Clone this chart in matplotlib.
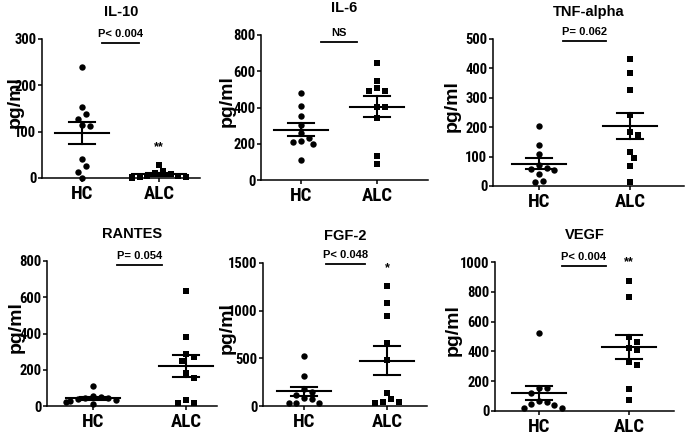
# cytokine scatter panels, HC vs ALC

import numpy as np
import matplotlib
matplotlib.use('Agg')
import matplotlib.pyplot as plt

# values (pg/ml)
groups = ['HC', 'ALC']
titles = ['IL-10', 'IL-6', 'TNF-alpha', 'RANTES', 'FGF-2', 'VEGF']

il10_hc = [240, 153, 139, 128, 114, 112, 40, 26, 14, 0]
il10_alc = [28, 15, 10, 8, 5, 4, 3, 2, 2, 1]
il6_hc = [482, 410, 353, 303, 259, 232, 215, 210, 199, 110]
il6_alc = [647, 546, 506, 493, 493, 404, 404, 340, 132, 88]
tnf_hc = [205, 138, 108, 70, 58, 55, 60, 40, 18, 12]
tnf_alc = [432, 384, 327, 242, 182, 174, 117, 94, 68, 15]
rantes_hc = [110, 55, 48, 45, 42, 38, 35, 25, 20, 12]
rantes_alc = [635, 382, 286, 268, 250, 180, 152, 33, 15, 18]
fgf_hc = [526, 315, 175, 151, 116, 81, 74, 28, 28, 28]
fgf_alc = [1255, 1080, 939, 666, 484, 140, 70, 46, 46, 35]
vegf_hc = [521, 154, 154, 120, 65, 58, 47, 42, 20, 20]
vegf_alc = [871, 766, 499, 465, 421, 410, 327, 310, 147, 76]

p_texts = ['P< 0.004', 'NS', 'P= 0.062', 'P= 0.054', 'P< 0.048', 'P< 0.004']
stars = ['**', '', '', '', '*', '**']
star_y = [67, 0, 0, 0, 1448, 1000]
bar_y = [291, 761, 493, 778, 1490, 973]
y_max = [300, 800, 500, 800, 1500, 1000]
y_step = [100, 200, 100, 200, 500, 200]

W, H = 686, 438
# panel boxes in pixels: left, right, top, bottom, x of HC, x of ALC
boxes = [
    (42, 200, 39, 178, 82, 159),
    (261, 428, 35, 180, 301, 377),
    (493, 684, 39, 186, 539, 630),
    (47, 217, 261, 406, 93, 186),
    (263, 427, 263, 406, 304, 387),
    (495, 674, 262, 411, 539, 629),
]
label_x = [15, 227, 452, 16, 227, 453]

NARROW = ['Liberation Sans Narrow', 'Roboto Condensed', 'Archivo Narrow',
          'Liberation Sans']
WIDE = ['Liberation Sans', 'DejaVu Sans']


def swarm(vals, px_per_unit, d=7.0):
    """greedy horizontal offsets (pixels) so markers don't overlap"""
    order = np.argsort(vals)[::-1]
    placed = []
    offs = np.zeros(len(vals))
    cands = [0.0]
    for k in range(1, 8):
        cands += [k * d * 0.55, -k * d * 0.55]
    for i in order:
        y = vals[i] * px_per_unit
        for c in cands:
            ok = True
            for (px, py) in placed:
                if (px - c) ** 2 + (py - y) ** 2 < d * d:
                    ok = False
                    break
            if ok:
                break
        placed.append((c, y))
        offs[i] = c
    return offs


def panel(fig, i, hc, alc):
    L, R, T, B, xh, xa = boxes[i]
    ax = fig.add_axes([L / W, 1 - B / H, (R - L) / W, (B - T) / H])
    ppu = xa - xh
    a = -(xh - L) / ppu
    b = a + (R - L) / ppu
    ax.set_xlim(a, b)
    ax.set_ylim(0, y_max[i])
    ypx = (B - T) / y_max[i]

    for g, (vals, mk) in enumerate([(hc, 'o'), (alc, 's')]):
        vals = np.array(vals, dtype=float)
        offs = swarm(vals, ypx) / ppu
        ax.plot(g + offs, vals, mk, color='black', ms=4.6, mew=0,
                clip_on=False, zorder=3)
        m = vals.mean()
        sem = vals.std(ddof=1) / np.sqrt(len(vals))
        hw = 27 / ppu
        sw = 13 / ppu
        ax.plot([g - hw, g + hw], [m, m], color='black', lw=1.5, zorder=4)
        ax.plot([g - sw, g + sw], [m + sem, m + sem], color='black', lw=1.5, zorder=4)
        ax.plot([g - sw, g + sw], [m - sem, m - sem], color='black', lw=1.5, zorder=4)
        ax.plot([g, g], [m - sem, m + sem], color='black', lw=1.5, zorder=4)

    # significance bar
    ax.plot([0.26, 0.74], [bar_y[i], bar_y[i]], color='black', lw=1.3,
            clip_on=False)
    ax.text(0.5, bar_y[i] + 4 / ypx, p_texts[i], ha='center', va='bottom',
            fontsize=8, fontweight='bold', family=WIDE)
    if stars[i]:
        ax.text(1, star_y[i], stars[i], ha='center', va='center',
                fontsize=9, fontweight='bold', family=WIDE)

    for s in ['top', 'right']:
        ax.spines[s].set_visible(False)
    for s in ['left', 'bottom']:
        ax.spines[s].set_linewidth(1.1)
    ax.set_yticks(np.arange(0, y_max[i] + 1, y_step[i]))
    ax.set_xticks([0, 1])
    ax.set_xticklabels(groups)
    ax.tick_params(axis='y', length=3, width=1.1, pad=1, labelsize=10.5)
    ax.tick_params(axis='x', length=3, width=1.1, pad=2, labelsize=13.5)
    for t in ax.get_yticklabels() + ax.get_xticklabels():
        t.set_family(NARROW)
        t.set_fontweight('bold')

    fig.text((L + R) / 2 / W, 1 - (T - 27) / H, titles[i], ha='center',
             va='center', fontsize=10.5, fontweight='bold', family=WIDE)
    fig.text(label_x[i] / W, 1 - ((T + B) / 2 - 6) / H, 'pg/ml', rotation=90,
             ha='center', va='center', fontsize=14, fontweight='bold',
             family=WIDE)
    return ax


def main():
    fig = plt.figure(figsize=(W / 100, H / 100), dpi=100)
    data = [(il10_hc, il10_alc), (il6_hc, il6_alc), (tnf_hc, tnf_alc),
            (rantes_hc, rantes_alc), (fgf_hc, fgf_alc), (vegf_hc, vegf_alc)]
    for i, (hc, alc) in enumerate(data):
        panel(fig, i, hc, alc)
    fig.savefig('out.png', dpi=100)


if __name__ == '__main__':
    main()
